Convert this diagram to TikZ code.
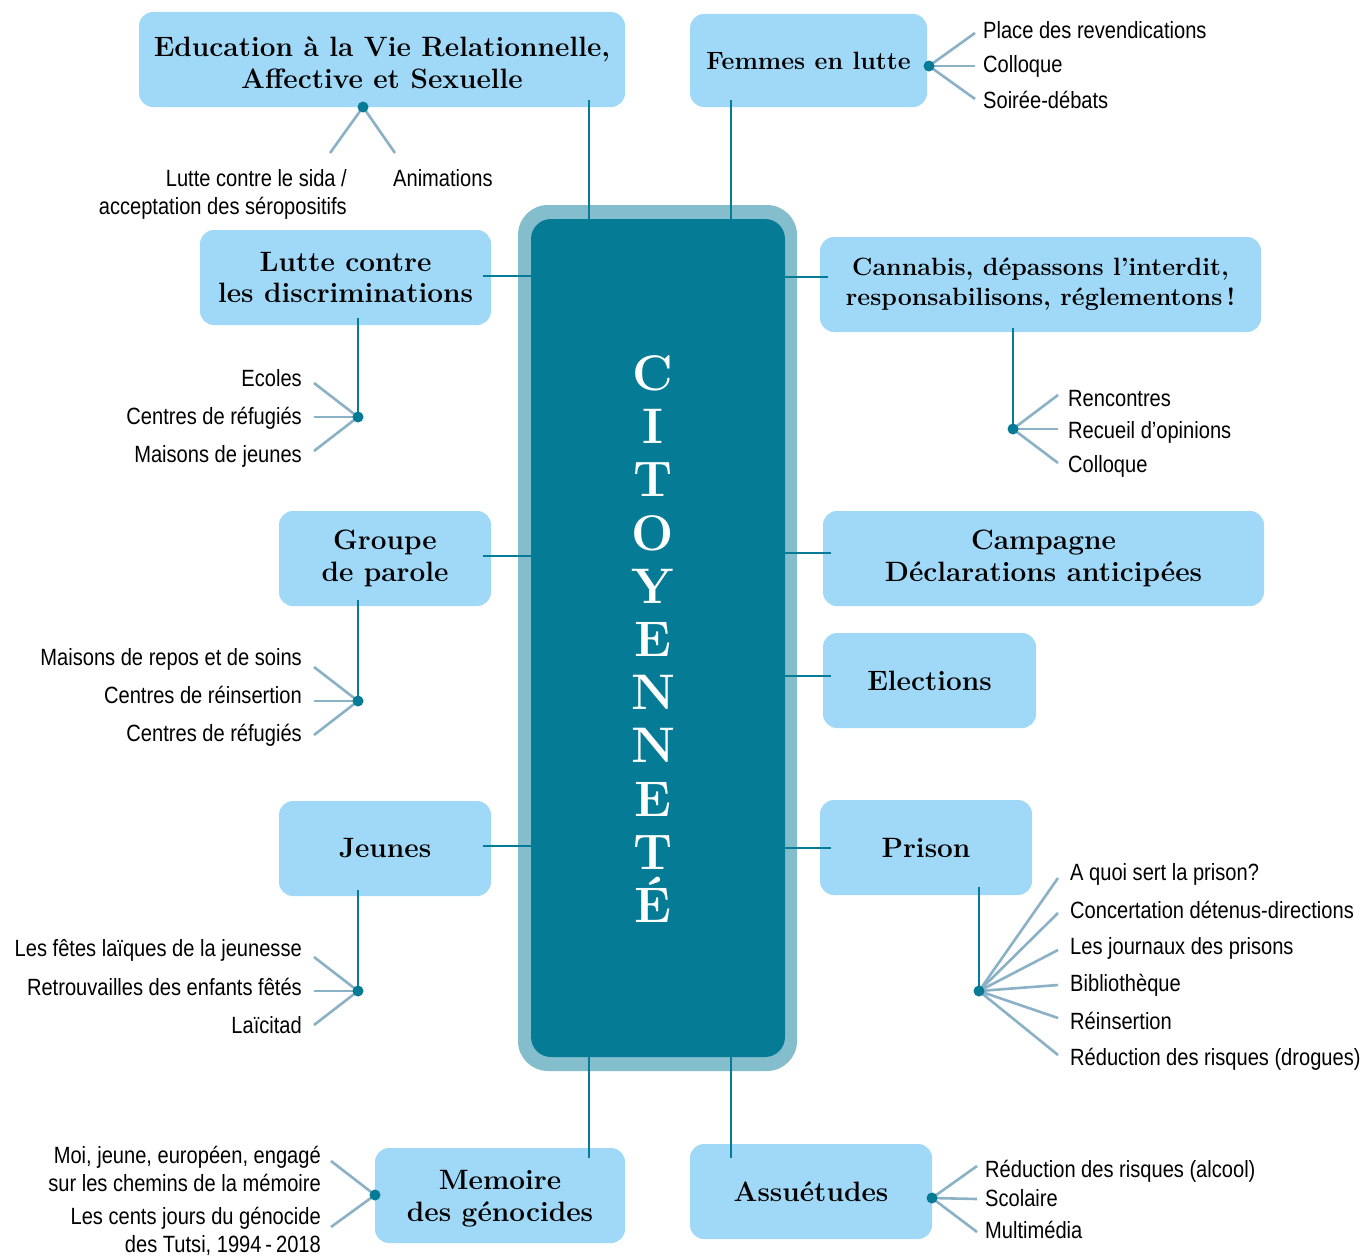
\documentclass[tikz,border=0pt]{standalone}
\usepackage{fontspec}
\newfontfamily\cond[FakeStretch=0.855]{Liberation Sans}
\definecolor{boxblue}{HTML}{A0D8F7}
\definecolor{cteal}{HTML}{067B96}
\definecolor{ringc}{HTML}{84BDCB}
\definecolor{twigc}{HTML}{8AB1C5}
\tikzset{
  topic/.style={rounded corners=14pt, fill=boxblue, inner sep=0pt, align=center,
    font=\fontsize{28}{31.5}\selectfont\bfseries},
  small topic/.style={topic, font=\fontsize{25}{30}\selectfont\bfseries},
  link/.style={draw=cteal, line width=2.6pt},
  twig/.style={draw=twigc, line width=2.6pt},
  hub/.style={circle, fill=cteal, inner sep=0pt, minimum size=11pt},
  lbl/.style={font=\cond\fontsize{23.5}{28}\selectfont, inner sep=0pt, text height=17pt, text depth=5pt},
  lblm/.style={font=\cond\fontsize{23.5}{28}\selectfont, inner sep=0pt, align=right},
}
\begin{document}
\begin{tikzpicture}[x=1pt,y=-1pt]
\useasboundingbox (0,0) rectangle (1364,1255);
\fill[white] (0,0) rectangle (1364,1255);
% topic boxes
\node[topic, minimum width=486pt, minimum height=95pt] (edu) at (382,59.5) {\rule{0pt}{26pt}Education à la Vie Relationnelle,\\Affective et Sexuelle};
\node[small topic, minimum width=237pt, minimum height=93pt] (fem) at (808.5,60.5) {Femmes en lutte};
\node[topic, minimum width=291pt, minimum height=95pt] (lut) at (345.5,277.5) {Lutte contre\\les discriminations};
\node[small topic, minimum width=441pt, minimum height=95pt] (can) at (1040.5,284.5) {Cannabis, dépassons l’interdit,\\responsabilisons, réglementons\,!};
\node[topic, minimum width=212pt, minimum height=95pt] (grp) at (385,558.5) {Groupe\\de parole};
\node[topic, minimum width=441pt, minimum height=95pt] (cam) at (1043.5,558.5) {Campagne\\Déclarations anticipées};
\node[topic, minimum width=213pt, minimum height=95pt] (ele) at (929.5,680.5) {Elections};
\node[topic, minimum width=212pt, minimum height=95pt] (jeu) at (385,848.5) {Jeunes};
\node[topic, minimum width=212pt, minimum height=95pt] (pri) at (926,847.5) {Prison};
\node[topic, minimum width=250pt, minimum height=95pt] (mem) at (500,1195.5) {\rule{0pt}{25.5pt}Memoire\\des génocides};
\node[topic, minimum width=242pt, minimum height=95pt] (ass) at (811,1191.5) {Assuétudes};
% central
\node[rounded corners=30pt, fill=ringc, minimum width=279pt, minimum height=866pt, inner sep=0pt] (outer) at (657.5,638) {};
\node[rounded corners=20pt, fill=cteal, minimum width=254pt, minimum height=838pt, inner sep=0pt] (inner) at (658,638) {};
\node[text=white, align=center, inner sep=0pt, font=\fontsize{50}{53.2}\selectfont\bfseries] (cit) at (653,639) {C\\I\\T\\O\\Y\\E\\N\\N\\E\\T\\É};
% main links
\coordinate (k1) at (589,100);  \draw[link] (k1) -- (k1 |- inner.north);
\coordinate (k2) at (731,100);  \draw[link] (k2) -- (k2 |- inner.north);
\coordinate (k3) at (483,276);  \draw[link] (k3) -- (k3 -| inner.west);
\coordinate (k4) at (483,556);  \draw[link] (k4) -- (k4 -| inner.west);
\coordinate (k5) at (483,846);  \draw[link] (k5) -- (k5 -| inner.west);
\coordinate (k6) at (828,277);  \draw[link] (k6) -- (k6 -| inner.east);
\coordinate (k7) at (831,553);  \draw[link] (k7) -- (k7 -| inner.east);
\coordinate (k8) at (831,676);  \draw[link] (k8) -- (k8 -| inner.east);
\coordinate (k9) at (831,848);  \draw[link] (k9) -- (k9 -| inner.east);
\coordinate (k10) at (589,1158); \draw[link] (k10) -- (k10 |- inner.south);
\coordinate (k11) at (731,1158); \draw[link] (k11) -- (k11 |- inner.south);
% --- Education
\coordinate (h1) at (363,107);
\coordinate (e1a) at (330,153); \coordinate (e1b) at (395,153);
\draw[twig] (h1) -- (e1a); \draw[twig] (h1) -- (e1b);
\node[hub] (d1) at (h1) {};
\node[lblm, anchor=east] (t1a) at (347,194) {Lutte contre le sida /\\acceptation des séropositifs};
\node[lbl, anchor=west] (t1b) at (393,180) {Animations};
% --- Femmes
\coordinate (h2) at (929,66);
\coordinate (e2a) at (975,33); \coordinate (e2b) at (975,66); \coordinate (e2c) at (975,99);
\draw[twig] (h2) -- (e2a); \draw[twig] (h2) -- (e2b); \draw[twig] (h2) -- (e2c);
\node[hub] (d2) at (h2) {};
\node[lbl, anchor=west] (t2a) at (983,32) {Place des revendications};
\node[lbl, anchor=west] (t2b) at (983,66) {Colloque};
\node[lbl, anchor=west] (t2c) at (983,102) {Soirée-débats};
% --- Lutte
\coordinate (s3) at (358,318); \coordinate (h3) at (358,417);
\draw[link] (s3) -- (h3);
\coordinate (e3a) at (314,383); \coordinate (e3b) at (314,417); \coordinate (e3c) at (314,451);
\draw[twig] (h3) -- (e3a); \draw[twig] (h3) -- (e3b); \draw[twig] (h3) -- (e3c);
\node[hub] (d3) at (h3) {};
\node[lbl, anchor=east] (t3a) at (302,380) {Ecoles};
\node[lbl, anchor=east] (t3b) at (302,418) {Centres de réfugiés};
\node[lbl, anchor=east] (t3c) at (302,456) {Maisons de jeunes};
% --- Cannabis
\coordinate (s4) at (1013,328); \coordinate (h4) at (1013,429);
\draw[link] (s4) -- (h4);
\coordinate (e4a) at (1058,395); \coordinate (e4b) at (1058,429); \coordinate (e4c) at (1058,463);
\draw[twig] (h4) -- (e4a); \draw[twig] (h4) -- (e4b); \draw[twig] (h4) -- (e4c);
\node[hub] (d4) at (h4) {};
\node[lbl, anchor=west] (t4a) at (1068,400) {Rencontres};
\node[lbl, anchor=west] (t4b) at (1068,432) {Recueil d’opinions};
\node[lbl, anchor=west] (t4c) at (1068,466) {Colloque};
% --- Groupe
\coordinate (s5) at (358,600); \coordinate (h5) at (358,701);
\draw[link] (s5) -- (h5);
\coordinate (e5a) at (314,667); \coordinate (e5b) at (314,701); \coordinate (e5c) at (314,735);
\draw[twig] (h5) -- (e5a); \draw[twig] (h5) -- (e5b); \draw[twig] (h5) -- (e5c);
\node[hub] (d5) at (h5) {};
\node[lbl, anchor=east] (t5a) at (302,659) {Maisons de repos et de soins};
\node[lbl, anchor=east] (t5b) at (302,697) {Centres de réinsertion};
\node[lbl, anchor=east] (t5c) at (302,735) {Centres de réfugiés};
% --- Jeunes
\coordinate (s6) at (358,890); \coordinate (h6) at (358,991);
\draw[link] (s6) -- (h6);
\coordinate (e6a) at (314,957); \coordinate (e6b) at (314,991); \coordinate (e6c) at (314,1025);
\draw[twig] (h6) -- (e6a); \draw[twig] (h6) -- (e6b); \draw[twig] (h6) -- (e6c);
\node[hub] (d6) at (h6) {};
\node[lbl, anchor=east] (t6a) at (302,950) {Les fêtes laïques de la jeunesse};
\node[lbl, anchor=east] (t6b) at (302,989) {Retrouvailles des enfants fêtés};
\node[lbl, anchor=east] (t6c) at (302,1027) {Laïcitad};
% --- Prison
\coordinate (s7) at (979,887); \coordinate (h7) at (979,991);
\draw[link] (s7) -- (h7);
\foreach \y [count=\i] in {878,913,950,985,1018,1055}{
  \coordinate (e7\i) at (1058,\y);
  \draw[twig] (h7) -- (e7\i);
}
\node[hub] (d7) at (h7) {};
\node[lbl, anchor=west] (t7a) at (1070,874) {A quoi sert la prison?};
\node[lbl, anchor=west] (t7b) at (1070,912) {Concertation détenus-directions};
\node[lbl, anchor=west] (t7c) at (1070,948) {Les journaux des prisons};
\node[lbl, anchor=west] (t7d) at (1070,985) {Bibliothèque};
\node[lbl, anchor=west] (t7e) at (1070,1023) {Réinsertion};
\node[lbl, anchor=west] (t7f) at (1070,1059) {Réduction des risques (drogues)};
% --- Memoire
\coordinate (h8) at (375,1195);
\coordinate (e8a) at (331,1161); \coordinate (e8b) at (331,1227);
\draw[twig] (h8) -- (e8a); \draw[twig] (h8) -- (e8b);
\node[hub] (d8) at (h8) {};
\node[lblm, anchor=east] (t8a) at (321,1169) {Moi, jeune, européen, engagé\\sur les chemins de la mémoire};
\node[lblm, anchor=east] (t8b) at (321,1231.5) {Les cents jours du génocide\\des Tutsi, 1994\,-\,2018};
% --- Assuetudes
\coordinate (h9) at (932,1198);
\coordinate (e9a) at (977,1166); \coordinate (e9b) at (977,1199); \coordinate (e9c) at (977,1232);
\draw[twig] (h9) -- (e9a); \draw[twig] (h9) -- (e9b); \draw[twig] (h9) -- (e9c);
\node[hub] (d9) at (h9) {};
\node[lbl, anchor=west] (t9a) at (985,1171) {Réduction des risques (alcool)};
\node[lbl, anchor=west] (t9b) at (985,1200) {Scolaire};
\node[lbl, anchor=west] (t9c) at (985,1232) {Multimédia};
\end{tikzpicture}
\end{document}
